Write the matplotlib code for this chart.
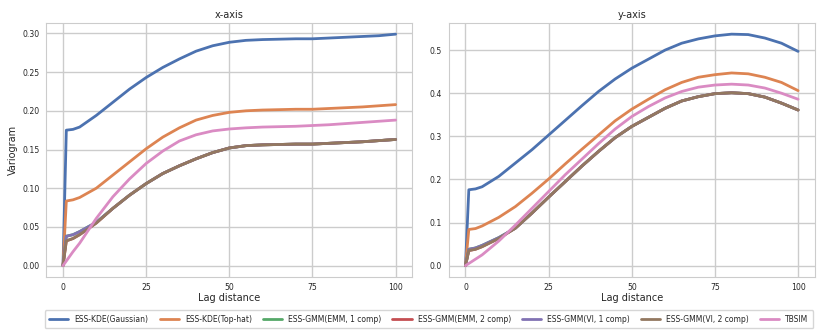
import numpy as np
import matplotlib
matplotlib.use("Agg")
import matplotlib.pyplot as plt
import seaborn as sns

sns.set_theme(style="whitegrid", palette="deep")
plt.rcParams['font.family'] = ['DejaVu Sans']

lags = [0, 1, 3, 5, 10, 15, 20, 25, 30, 35, 40, 45, 50, 55, 60, 65, 70, 75, 80, 85, 90, 95, 100]

# x-axis variograms
x_kde_gauss = [0, 0.175, 0.176, 0.179, 0.194, 0.211, 0.228, 0.243, 0.256, 0.267, 0.277, 0.284, 0.2885,
               0.291, 0.292, 0.2925, 0.293, 0.293, 0.294, 0.295, 0.296, 0.297, 0.299]
x_kde_top = [0, 0.0835, 0.085, 0.088, 0.100, 0.117, 0.134, 0.151, 0.166, 0.178, 0.188, 0.194, 0.198,
             0.200, 0.201, 0.2015, 0.202, 0.202, 0.203, 0.204, 0.205, 0.2065, 0.208]
x_emm1 = [0, 0.038, 0.040, 0.044, 0.056, 0.074, 0.091, 0.106, 0.119, 0.129, 0.138, 0.146, 0.152,
          0.155, 0.156, 0.1565, 0.157, 0.157, 0.158, 0.159, 0.160, 0.1615, 0.163]
x_emm2 = [0, 0.032, 0.035, 0.040, 0.055, 0.074, 0.091, 0.106, 0.119, 0.129, 0.138, 0.146, 0.152,
          0.155, 0.156, 0.1565, 0.157, 0.157, 0.158, 0.159, 0.160, 0.1615, 0.163]
x_vi1 = [0, 0.038, 0.040, 0.044, 0.056, 0.074, 0.091, 0.106, 0.119, 0.129, 0.138, 0.146, 0.152,
         0.155, 0.156, 0.1565, 0.157, 0.157, 0.158, 0.159, 0.160, 0.1615, 0.163]
x_vi2 = [0, 0.032, 0.035, 0.040, 0.055, 0.074, 0.091, 0.106, 0.119, 0.129, 0.138, 0.146, 0.152,
         0.155, 0.156, 0.1565, 0.157, 0.157, 0.158, 0.159, 0.160, 0.1615, 0.163]
x_tbsim = [0, 0.006, 0.018, 0.029, 0.061, 0.089, 0.112, 0.132, 0.148, 0.161, 0.169, 0.174, 0.1765,
           0.178, 0.179, 0.1795, 0.180, 0.181, 0.182, 0.1835, 0.185, 0.1865, 0.188]

# y-axis variograms
y_kde_gauss = [0, 0.176, 0.178, 0.183, 0.207, 0.238, 0.269, 0.303, 0.337, 0.371, 0.404, 0.433, 0.458,
               0.479, 0.500, 0.516, 0.526, 0.533, 0.537, 0.536, 0.528, 0.516, 0.497]
y_kde_top = [0, 0.084, 0.086, 0.092, 0.112, 0.137, 0.168, 0.201, 0.236, 0.270, 0.303, 0.336, 0.363,
             0.386, 0.408, 0.425, 0.437, 0.443, 0.447, 0.445, 0.437, 0.425, 0.406]
y_emm1 = [0, 0.038, 0.041, 0.047, 0.065, 0.087, 0.122, 0.159, 0.195, 0.231, 0.265, 0.297, 0.323,
          0.344, 0.365, 0.382, 0.392, 0.399, 0.401, 0.399, 0.391, 0.377, 0.361]
y_emm2 = [0, 0.035, 0.038, 0.044, 0.063, 0.087, 0.122, 0.159, 0.195, 0.231, 0.265, 0.297, 0.323,
          0.344, 0.365, 0.382, 0.392, 0.399, 0.401, 0.399, 0.391, 0.377, 0.361]
y_vi1 = [0, 0.038, 0.041, 0.047, 0.065, 0.087, 0.122, 0.159, 0.195, 0.231, 0.265, 0.297, 0.323,
         0.344, 0.365, 0.382, 0.392, 0.399, 0.401, 0.399, 0.391, 0.377, 0.361]
y_vi2 = [0, 0.035, 0.038, 0.044, 0.063, 0.087, 0.122, 0.159, 0.195, 0.231, 0.265, 0.297, 0.323,
         0.344, 0.365, 0.382, 0.392, 0.399, 0.401, 0.399, 0.391, 0.377, 0.361]
y_tbsim = [0, 0.005, 0.015, 0.025, 0.057, 0.094, 0.133, 0.172, 0.211, 0.247, 0.283, 0.317, 0.346,
           0.369, 0.389, 0.404, 0.414, 0.419, 0.421, 0.419, 0.412, 0.400, 0.386]

labels = ["ESS-KDE(Gaussian)", "ESS-KDE(Top-hat)", "ESS-GMM(EMM, 1 comp)", "ESS-GMM(EMM, 2 comp)",
          "ESS-GMM(VI, 1 comp)", "ESS-GMM(VI, 2 comp)", "TBSIM"]
x_series = [x_kde_gauss, x_kde_top, x_emm1, x_emm2, x_vi1, x_vi2, x_tbsim]
y_series = [y_kde_gauss, y_kde_top, y_emm1, y_emm2, y_vi1, y_vi2, y_tbsim]
colors = sns.color_palette("deep", 7)

fig, axes = plt.subplots(1, 2, figsize=(8.28, 3.32), dpi=100)
for ax, series, title in zip(axes, [x_series, y_series], ["x-axis", "y-axis"]):
    for vals, lab, c in zip(series, labels, colors):
        ax.plot(lags, vals, color=c, lw=2, label=lab)
    ax.set_title(title, fontsize=7, pad=3)
    ax.set_xlabel("Lag distance", fontsize=7, labelpad=1)
    ax.tick_params(axis="x", labelsize=5.6, length=0, pad=4)
    ax.tick_params(axis="y", labelsize=5.6, length=0, pad=5)
    ax.set_xticks([0, 25, 50, 75, 100])
    for s in ax.spines.values():
        s.set_linewidth(0.8)
axes[0].set_ylabel("Variogram", fontsize=7)
axes[0].yaxis.set_label_coords(-0.077, 0.5)

handles, labs = axes[0].get_legend_handles_labels()
fig.legend(handles, labs, loc="lower center", ncol=7, fontsize=5.5, frameon=True,
           bbox_to_anchor=(0.518, 0.0), handlelength=2.5, columnspacing=1.45, borderpad=0.6)

fig.subplots_adjust(left=0.056, right=0.984, top=0.932, bottom=0.165, wspace=0.1)
fig.savefig("out.png", dpi=100)
